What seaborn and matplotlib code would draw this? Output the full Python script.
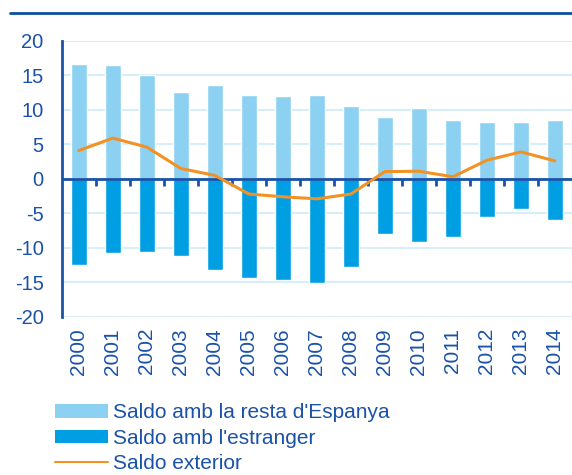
import numpy as np
import pandas as pd
import matplotlib
matplotlib.use("Agg")
import matplotlib.pyplot as plt
from matplotlib.lines import Line2D
from matplotlib.patches import Patch
import seaborn as sns

# data
years = [str(y) for y in range(2000, 2015)]
saldo_espanya = [16.7, 16.5, 15.1, 12.6, 13.6, 12.1, 12.0, 12.2, 10.6, 9.0, 10.2, 8.6, 8.3, 8.3, 8.6]
saldo_estranger = [-12.5, -10.7, -10.6, -11.2, -13.2, -14.4, -14.7, -15.1, -12.8, -8.0, -9.1, -8.4, -5.6, -4.4, -6.0]
saldo_exterior = [4.1, 5.9, 4.6, 1.5, 0.5, -2.2, -2.6, -2.9, -2.2, 1.05, 1.1, 0.3, 2.7, 3.9, 2.6]
yticks = [-20, -15, -10, -5, 0, 5, 10, 15, 20]

df = pd.DataFrame({"year": years, "esp": saldo_espanya,
                   "estr": saldo_estranger, "ext": saldo_exterior})

light = "#8DD1F2"
dark = "#009FE3"
orange = "#F39224"
navy = "#1A52A8"
grid = "#CDEBF8"

sns.set_style("white")
plt.rcParams["font.family"] = ["Liberation Sans", "DejaVu Sans"]

fig = plt.figure(figsize=(5.72, 4.75), dpi=100)
ax = fig.add_axes([0.108, 0.333, 0.892, 0.581])

sns.barplot(data=df, x="year", y="esp", color=light, width=0.47,
            saturation=1, ax=ax, zorder=2)
sns.barplot(data=df, x="year", y="estr", color=dark, width=0.47,
            saturation=1, ax=ax, zorder=2)
sns.lineplot(data=df, x="year", y="ext", color=orange, linewidth=2.2,
             ax=ax, zorder=4)

ax.set_ylim(-20, 20)
ax.set_xlim(-0.5, len(years) - 0.5)
ax.set_yticks(yticks)
ax.set_yticklabels([str(t) for t in yticks])
ax.set_xlabel("")
ax.set_ylabel("")
for t in yticks:
    ax.axhline(t, color=grid, linewidth=1.2, zorder=0)

for s in ["top", "right", "bottom"]:
    ax.spines[s].set_visible(False)
ax.spines["left"].set_color(navy)
ax.spines["left"].set_linewidth(2)

ax.tick_params(axis="y", colors=navy, labelsize=14.5, length=5, width=2,
               direction="out", pad=8)
ax.tick_params(axis="x", colors=navy, labelsize=15, length=0, pad=8,
               labelrotation=90)

# zero line with ticks between categories
ax.axhline(0, color=navy, linewidth=2, zorder=3)
sec = ax.secondary_xaxis(0.5)
sec.set_xticks(np.arange(0.5, len(years) - 0.5, 1))
sec.set_xticklabels([])
sec.tick_params(axis="x", direction="in", length=5, width=2, color=navy)
for sp in sec.spines.values():
    sp.set_visible(False)

handles = [Patch(facecolor=light, edgecolor="none"),
           Patch(facecolor=dark, edgecolor="none"),
           Line2D([0], [0], color=orange, linewidth=1.5)]
labels = ["Saldo amb la resta d'Espanya", "Saldo amb l'estranger", "Saldo exterior"]
fig.legend(handles, labels, loc="lower left", bbox_to_anchor=(0.092, 0.0),
           frameon=False, fontsize=15, labelcolor=navy, handlelength=2.55,
           handleheight=0.63, handletextpad=0.25, labelspacing=0.3,
           borderaxespad=0, borderpad=0.1)

# title rule at top
fig.add_artist(Line2D([0.018, 1.0], [0.972, 0.972], color="#0D4E9E",
                      linewidth=2, transform=fig.transFigure))

fig.savefig("out.png", dpi=100)
